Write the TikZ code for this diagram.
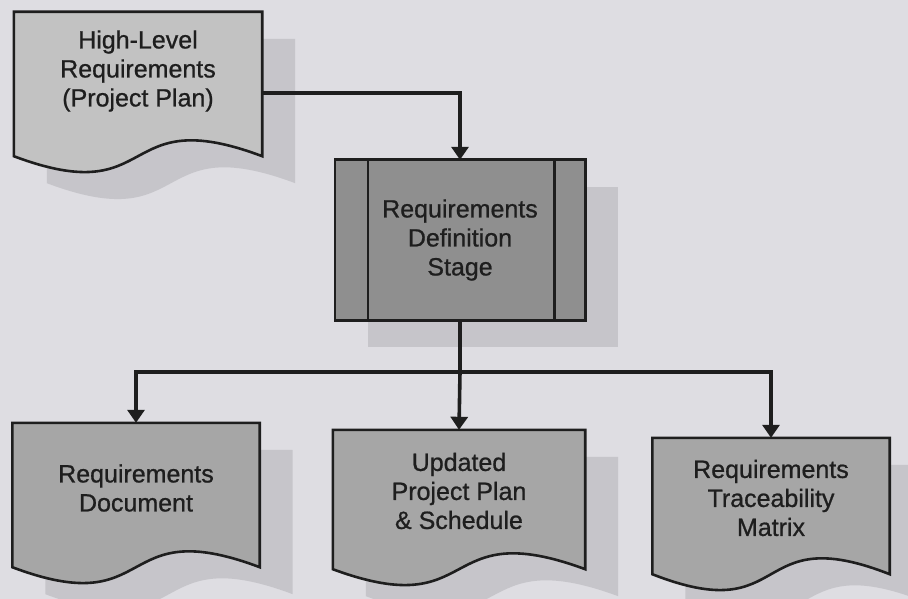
\documentclass[tikz,border=0pt]{standalone}
\usepackage{fontspec}
\setmainfont{Liberation Sans}[FakeBold=0.8]
\usetikzlibrary{calc,arrows.meta,backgrounds}

\definecolor{pagebg}{HTML}{DEDDE2}
\definecolor{shadowc}{HTML}{C6C5CA}
\definecolor{filllight}{HTML}{C2C2C2}
\definecolor{fillmid}{HTML}{A6A6A6}
\definecolor{filldark}{HTML}{8F8F8F}
\definecolor{ink}{HTML}{1E1E1E}

% Document outline: straight top and sides, wavy bottom edge that lies
% #2 below the node's south side.
\newcommand\docoutline[2]{%
  (#1.north west) -- (#1.north east) -- ($(#1.south east)+(0,#2)$)
  .. controls ($(#1.south east)!0.59!(#1.south west)+(0,#2-55)$)
  and ($(#1.south east)!0.41!(#1.south west)+(0,#2+55)$)
  .. ($(#1.south west)+(0,#2)$) -- cycle}

\begin{document}
\begin{tikzpicture}[x=1pt,y=-1pt,
  boxtext/.style={align=center, font=\fontsize{25}{29}\selectfont, text=ink,
    inner sep=0pt},
  border/.style={draw=ink, line width=2.6pt, line join=miter},
  conn/.style={draw=ink, line width=3.6pt},
  arr/.style={conn, -{Triangle[width=17pt,length=13pt]}},
  castshadow/.style={fill=shadowc, transform canvas={shift={(33pt,-27pt)}}}]

\useasboundingbox (0,0) rectangle (908,599);

% box bodies (text sits at the node centre)
\node[boxtext, minimum width=248pt, minimum height=118pt] (hl) at (138,71)
  {High-Level\\Requirements\\(Project Plan)};
\node[boxtext, minimum width=250pt, minimum height=160pt] (rd) at (460,240)
  {Requirements\\Definition\\Stage};
\node[boxtext, minimum width=247pt, minimum height=130pt] (doc) at (136,488)
  {Requirements\\Document};
\node[boxtext, minimum width=252pt, minimum height=122pt] (upd) at (459,491)
  {Updated\\Project Plan\\\& Schedule};
\node[boxtext, minimum width=237pt, minimum height=120pt] (rtm) at (771,498)
  {Requirements\\Traceability\\Matrix};

\begin{scope}[on background layer]
  \fill[pagebg] (0,0) rectangle (908,599);
  % cast shadows
  \path[castshadow] \docoutline{hl}{26};
  \path[castshadow] (rd.north west) rectangle (rd.south east);
  \path[castshadow] \docoutline{doc}{14};
  \path[castshadow] \docoutline{upd}{17};
  \path[castshadow] \docoutline{rtm}{16};
  % shapes
  \path[border, fill=filllight] \docoutline{hl}{26};
  \path[border, fill=filldark] (rd.north west) rectangle (rd.south east);
  \draw[border] ($(rd.north west)+(33,0)$) -- ($(rd.south west)+(33,0)$);
  \draw[border] ($(rd.north east)+(-31,0)$) -- ($(rd.south east)+(-31,0)$);
  \path[border, fill=fillmid] \docoutline{doc}{14};
  \path[border, fill=fillmid] \docoutline{upd}{17};
  \path[border, fill=fillmid] \docoutline{rtm}{16};
\end{scope}

% connectors
\coordinate (bus) at (rd.south |- 0,372);
\draw[arr] ([yshift=-22pt]hl.east) -| (rd.north);
\draw[conn] (rd.south) -- (bus);
\draw[arr] (bus) -| (doc.north);
\draw[arr] (bus) -- (upd.north);
\draw[arr] (bus) -| (rtm.north);
\end{tikzpicture}
\end{document}
